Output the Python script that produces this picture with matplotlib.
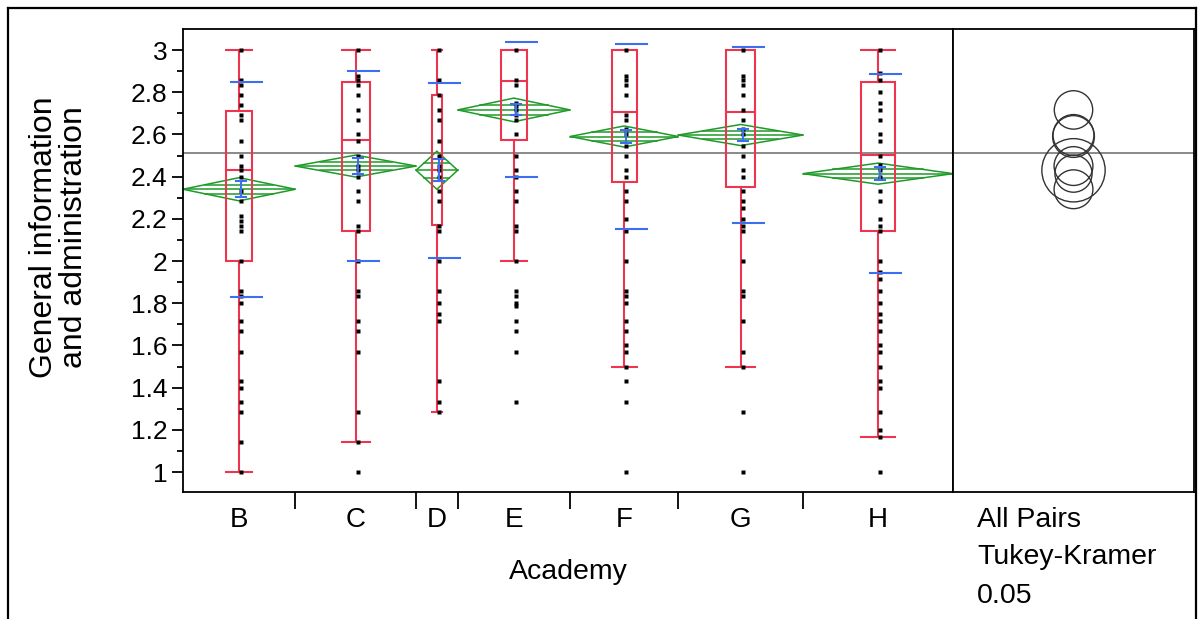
import numpy as np
import matplotlib
matplotlib.use("Agg")
import matplotlib.pyplot as plt
from matplotlib.patches import Rectangle, Polygon, Circle
from matplotlib.lines import Line2D

plt.rcParams['font.family'] = ['Liberation Sans', 'DejaVu Sans']

# grupos (largura proporcional ao numero de respostas)
grupos = ['B', 'C', 'D', 'E', 'F', 'G', 'H']
n_grupo = [27, 29, 10, 27, 26, 30, 36]

# quartis e bigodes
q1 = [2.0, 2.144, 2.171, 2.573, 2.376, 2.352, 2.144]
mediana = [2.43, 2.573, 2.43, 2.855, 2.708, 2.708, 2.502]
q3 = [2.711, 2.85, 2.787, 3.0, 3.0, 3.0, 2.85]
bigode_inf = [1.0, 1.143, 1.286, 2.0, 1.5, 1.5, 1.167]
bigode_sup = [3.0, 3.0, 3.0, 3.0, 3.0, 3.0, 3.0]

# medias, intervalo (diamante), erro padrao, desvio padrao
media = [2.34, 2.45, 2.43, 2.716, 2.59, 2.597, 2.414]
ic = [0.055, 0.052, 0.09, 0.056, 0.05, 0.05, 0.05]
ep = [0.038, 0.036, 0.052, 0.026, 0.033, 0.03, 0.031]
dp = [0.51, 0.451, 0.415, 0.32, 0.44, 0.417, 0.473]

# circulos de Tukey-Kramer (raio)
raio = [0.092, 0.092, 0.15, 0.091, 0.099, 0.097, 0.088]
media_geral = 2.512

pontos = {
    'B': [3.0, 2.857, 2.833, 2.786, 2.74, 2.69, 2.667, 2.571, 2.5, 2.45, 2.429, 2.4,
          2.333, 2.286, 2.214, 2.19, 2.167, 2.143, 2.0, 1.857, 1.833, 1.8, 1.714,
          1.667, 1.571, 1.429, 1.4, 1.333, 1.286, 1.143, 1.0],
    'C': [3.0, 2.875, 2.857, 2.833, 2.786, 2.714, 2.667, 2.6, 2.571, 2.5, 2.45, 2.429,
          2.4, 2.333, 2.286, 2.167, 2.143, 2.0, 1.857, 1.833, 1.714, 1.667, 1.571,
          1.286, 1.143, 1.0],
    'D': [3.0, 2.857, 2.786, 2.714, 2.667, 2.571, 2.5, 2.45, 2.429, 2.4, 2.333, 2.286,
          2.167, 2.143, 2.0, 1.857, 1.8, 1.75, 1.714, 1.429, 1.333, 1.286],
    'E': [3.0, 2.857, 2.833, 2.75, 2.733, 2.714, 2.692, 2.667, 2.6, 2.5, 2.429, 2.4,
          2.333, 2.286, 2.167, 2.143, 2.0, 1.857, 1.833, 1.8, 1.786, 1.714, 1.667,
          1.571, 1.333],
    'F': [3.0, 2.875, 2.857, 2.833, 2.786, 2.692, 2.667, 2.625, 2.6, 2.545, 2.5, 2.429,
          2.4, 2.333, 2.286, 2.2, 2.143, 2.0, 1.857, 1.833, 1.8, 1.714, 1.667, 1.6,
          1.571, 1.5, 1.429, 1.333, 1.0],
    'G': [3.0, 2.875, 2.857, 2.833, 2.786, 2.714, 2.667, 2.625, 2.6, 2.545, 2.5, 2.429,
          2.4, 2.333, 2.286, 2.25, 2.2, 2.167, 2.143, 2.0, 1.857, 1.833, 1.714, 1.571,
          1.5, 1.286, 1.0],
    'H': [3.0, 2.889, 2.857, 2.8, 2.75, 2.714, 2.667, 2.6, 2.571, 2.5, 2.455, 2.429,
          2.4, 2.333, 2.286, 2.2, 2.167, 2.143, 2.0, 1.95, 1.917, 1.857, 1.8, 1.75,
          1.714, 1.667, 1.6, 1.571, 1.5, 1.429, 1.4, 1.286, 1.2, 1.167, 1.0],
}

vermelho = '#ee3550'
verde = '#1e9a28'
azul = '#3b6ef0'

W, H = 1200, 619
fig = plt.figure(figsize=(W / 100, H / 100), dpi=100)
fig.patch.set_facecolor('white')

# posicoes em pixels
x0, x1, x2 = 183, 953, 1194
ytop, ybot = 29, 492
ax = fig.add_axes([x0 / W, (H - ybot) / H, (x1 - x0) / W, (ybot - ytop) / H])
ax2 = fig.add_axes([x1 / W, (H - ybot) / H, (x2 - x1) / W, (ybot - ytop) / H])

ylo = 3 - (ybot - 50) / 211.0
yhi = 3 - (ytop - 50) / 211.0

bordas = np.concatenate([[0], np.cumsum(n_grupo)])
centros = (bordas[:-1] + bordas[1:]) / 2.0
total = bordas[-1]
px = (x1 - x0) / total  # pixels por unidade

for i, g in enumerate(grupos):
    c = centros[i]
    w = n_grupo[i]
    bw = 0.23 * w
    # diamante da media
    dia = Polygon([[bordas[i], media[i]], [c, media[i] + ic[i]],
                   [bordas[i + 1], media[i]], [c, media[i] - ic[i]]],
                  closed=True, fill=False, edgecolor=verde, lw=1.1, zorder=2)
    ax.add_patch(dia)
    ax.plot([bordas[i], bordas[i + 1]], [media[i], media[i]], color=verde, lw=1.1, zorder=2)
    f = 0.4
    for s in (-1, 1):
        ax.plot([bordas[i] + f * w / 2, bordas[i + 1] - f * w / 2],
                [media[i] + s * f * ic[i], media[i] + s * f * ic[i]],
                color=verde, lw=1.1, zorder=2)
    # box plot
    ax.add_patch(Rectangle((c - bw / 2, q1[i]), bw, q3[i] - q1[i], fill=False,
                           edgecolor=vermelho, lw=1.5, zorder=3))
    ax.plot([c - bw / 2, c + bw / 2], [mediana[i], mediana[i]], color=vermelho, lw=1.5, zorder=3)
    if bigode_sup[i] > q3[i]:
        ax.plot([c, c], [q3[i], bigode_sup[i]], color=vermelho, lw=1.5, zorder=3)
        ax.plot([c - bw / 2, c + bw / 2], [bigode_sup[i]] * 2, color=vermelho, lw=1.5, zorder=3)
    if bigode_inf[i] < q1[i]:
        ax.plot([c, c], [bigode_inf[i], q1[i]], color=vermelho, lw=1.5, zorder=3)
        ax.plot([c - bw / 2, c + bw / 2], [bigode_inf[i]] * 2, color=vermelho, lw=1.5, zorder=3)
    # pontos
    xp = c + 0.5
    ax.plot([xp] * len(pontos[g]), pontos[g], 's', color='black', ms=2.6, mec='none', zorder=4)
    # erro padrao
    ax.plot([xp, xp], [media[i] - ep[i], media[i] + ep[i]], color=azul, lw=1.5, zorder=5)
    for s in (-1, 1):
        ax.plot([xp - 5 / px, xp + 5 / px], [media[i] + s * ep[i]] * 2, color=azul, lw=1.5, zorder=5)
    # desvio padrao
    for s in (-1, 1):
        ax.plot([xp - 10 / px, xp + 21 / px], [media[i] + s * dp[i]] * 2, color=azul, lw=1.5, zorder=5)

ax.axhline(media_geral, color='#808080', lw=1.3, zorder=1)
ax.set_xlim(0, total)
ax.set_ylim(ylo, yhi)
ax.set_yticks(np.arange(1.0, 3.01, 0.2))
ax.set_yticklabels(['1', '1.2', '1.4', '1.6', '1.8', '2', '2.2', '2.4', '2.6', '2.8', '3'])
ax.set_yticks(np.arange(1.1, 3.0, 0.2), minor=True)
ax.tick_params(axis='y', which='major', length=8, width=1.3, labelsize=19, pad=3, colors='black')
ax.tick_params(axis='y', which='minor', length=4, width=1.3)
ax.set_xticks(bordas[1:-1])
ax.set_xticklabels([])
ax.tick_params(axis='x', which='major', length=12, width=1.3)
for i, g in enumerate(grupos):
    ax.text(centros[i], -0.06, g, transform=ax.get_xaxis_transform(), ha='center', va='center',
            fontsize=20)
ax.text(0.5, -0.172, 'Academy', transform=ax.transAxes, ha='center', va='center', fontsize=20.5)
ax.set_ylabel('General information\nand administration', fontsize=23, linespacing=1.0)
ax.yaxis.set_label_coords(-0.122, 0.55)
for sp in ax.spines.values():
    sp.set_linewidth(1.3)

# painel dos circulos
ax2.axhline(media_geral, color='#808080', lw=1.3, zorder=1)
largura = (yhi - ylo) * (x2 - x1) / (ybot - ytop)
ax2.set_xlim(0, largura)
ax2.set_ylim(ylo, yhi)
for i in range(len(grupos)):
    ax2.add_patch(Circle((largura / 2, media[i]), raio[i], fill=False, edgecolor='#333333', lw=1.0))
ax2.set_xticks([])
ax2.set_yticks([])
for sp in ax2.spines.values():
    sp.set_linewidth(1.3)
ax2.text(0.1, -0.06, 'All Pairs', transform=ax2.transAxes, ha='left', va='center', fontsize=20.5)
ax2.text(0.1, -0.14, 'Tukey-Kramer', transform=ax2.transAxes, ha='left', va='center', fontsize=20.5)
ax2.text(0.1, -0.225, '0.05', transform=ax2.transAxes, ha='left', va='center', fontsize=20.5)

# moldura externa
fig.add_artist(Line2D([8 / W, 8 / W], [0, (H - 8) / H], color='black', lw=1.6))
fig.add_artist(Line2D([8 / W, 1196 / W], [(H - 8) / H, (H - 8) / H], color='black', lw=1.6))
fig.add_artist(Line2D([1196 / W, 1196 / W], [0, (H - 8) / H], color='black', lw=1.6))

fig.savefig('out.png', dpi=100)
